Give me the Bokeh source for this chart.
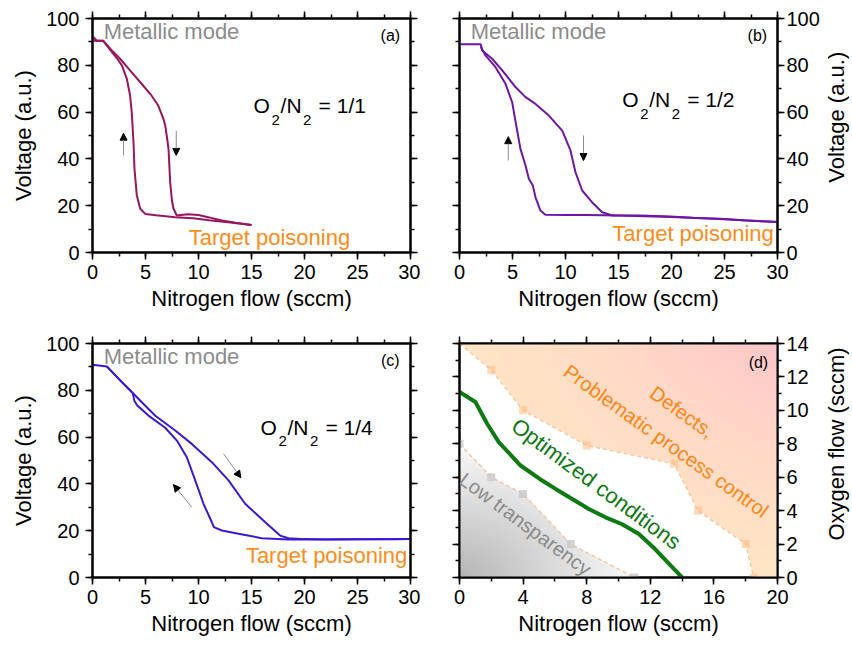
import math
import numpy as np
from bokeh.plotting import figure
from bokeh.layouts import column, row
from bokeh.models import LinearAxis, SingleIntervalTicker, Label, Arrow, NormalHead, Range1d
from bokeh.embed import file_html
from bokeh.resources import INLINE

FONT = "Liberation Sans"

# ---------------- data ----------------
# (a) O2/N2 = 1/1
a_inc_x = [0, 1.0, 1.8, 2.6, 3.6, 4.65, 5.5, 6.2, 6.7, 6.86, 7.0, 7.17, 7.33, 7.5, 7.64, 7.95, 9.0, 10.0, 11.0, 12.2, 13.5, 15.0]
a_inc_y = [90.5, 90.5, 86.5, 82.8, 77.5, 72.0, 67.5, 62.8, 57.0, 54.3, 50.0, 44.4, 30.0, 22.0, 18.8, 15.8, 16.3, 16.0, 15.0, 13.7, 12.7, 11.8]
a_dec_x = [15.0, 13.0, 11.0, 9.5, 7.8, 6.0, 4.97, 4.5, 4.18, 3.96, 3.87, 3.7, 3.55, 3.24, 2.77, 2.3, 1.6, 1.0, 0.4, 0.1, 0]
a_dec_y = [11.8, 12.8, 13.8, 14.6, 15.1, 15.9, 16.5, 18.7, 24.4, 35.8, 47.0, 60.0, 67.0, 74.2, 80.0, 83.0, 87.0, 90.5, 90.5, 92.0, 90.5]

# (b) O2/N2 = 1/2
b_inc_x = [0, 2.0, 2.14, 3.08, 4.03, 5.28, 6.2, 7.17, 8.43, 9.69, 10.47, 10.94, 11.57, 12.5, 13.46, 14.4, 17.0, 19.9, 22.0, 24.6, 27.0, 30.0]
b_inc_y = [89.0, 89.0, 86.3, 82.8, 77.8, 70.7, 66.5, 63.5, 58.5, 52.1, 43.6, 34.3, 26.5, 21.5, 17.2, 15.8, 15.8, 15.4, 14.9, 14.4, 13.7, 13.0]
b_dec_x = [30.0, 25.0, 20.0, 15.0, 12.0, 10.0, 8.1, 7.64, 7.17, 6.92, 6.54, 6.23, 5.75, 5.35, 4.97, 4.34, 3.4, 2.45, 2.0]
b_dec_y = [13.0, 14.2, 15.2, 15.8, 16.0, 16.0, 16.1, 17.9, 23.6, 28.6, 31.5, 37.2, 44.3, 54.3, 64.2, 72.1, 79.2, 84.2, 88.0]

# (c) O2/N2 = 1/4
c_inc_x = [0, 1.35, 2.77, 3.87, 4.65, 5.9, 7.8, 9.37, 11.26, 12.83, 14.4, 16.3, 17.7, 18.5, 20.0, 22.0, 25.0, 28.0, 30.0]
c_inc_y = [90.9, 90.2, 83.5, 78.5, 74.9, 69.2, 62.8, 57.1, 49.3, 41.5, 31.5, 23.6, 17.9, 16.8, 16.4, 16.2, 16.3, 16.3, 16.4]
c_dec_x = [30.0, 25.0, 20.0, 18.5, 15.97, 13.77, 12.2, 11.45, 11.26, 10.47, 9.69, 8.9, 7.96, 6.86, 5.28, 4.2, 3.95, 3.8, 2.77, 1.35]
c_dec_y = [16.4, 16.3, 16.2, 16.2, 16.8, 18.7, 20.1, 21.5, 23.6, 31.5, 41.5, 51.4, 58.5, 64.0, 69.2, 73.6, 75.5, 78.8, 83.5, 90.2]

# (d) process window
d_upper_x = [0, 2, 4, 8, 13.5, 15, 18, 18.5]
d_upper_y = [14, 12.4, 10, 7.9, 6.8, 4, 2, 0]
d_lower_x = [0, 2, 4, 7, 11]
d_lower_y = [8, 6, 5, 2, 0]
d_opt_x = [0, 1.0, 1.74, 2.47, 3.84, 5.2, 6.04, 7.09, 8.13, 9.18, 10.2, 11.28, 12.3, 13.5, 14.0]
d_opt_y = [11.1, 10.5, 9.2, 8.1, 6.7, 5.8, 5.3, 4.7, 4.1, 3.6, 3.2, 2.6, 1.7, 0.5, 0]

ratios = ["1/1", "1/2", "1/4"]
panel_tags = ["(a)", "(b)", "(c)", "(d)"]

COL_A = "#991560"
COL_B = "#6F16A8"
COL_C = "#3D18D4"
COL_D = "#0E7A12"
ORANGE = "#FF8C1A"
GREY = "#8C8C8C"


def style_axis(ax, interval, labels=True, label=None, standoff=5):
    ax.ticker = SingleIntervalTicker(interval=interval, num_minor_ticks=2)
    ax.axis_line_color = "black"
    ax.axis_line_width = 2
    ax.major_tick_line_color = "black"
    ax.major_tick_line_width = 1.5
    ax.minor_tick_line_color = "black"
    ax.minor_tick_line_width = 1.5
    ax.major_tick_in = 0
    ax.major_tick_out = 7
    ax.minor_tick_in = 0
    ax.minor_tick_out = 4
    ax.major_label_text_font = FONT
    if labels:
        ax.major_label_text_color = "black"
        ax.major_label_text_font_size = "20px"
        ax.major_label_standoff = standoff
    else:
        ax.major_label_text_color = None
        ax.major_label_text_font_size = "1px"
        ax.major_label_standoff = 0
    if label:
        ax.axis_label = label
        ax.axis_label_text_font = FONT
        ax.axis_label_text_font_size = "22px"
        ax.axis_label_text_font_style = "normal"
        ax.axis_label_text_color = "black"
    return ax


def add_text(p, x, y, text, size, color, align="left", baseline="middle", angle=0.0, xo=0, yo=0):
    p.add_layout(Label(x=x, y=y, text=text, text_font=FONT, text_font_size=f"{size}px",
                       text_color=color, text_align=align, text_baseline=baseline,
                       angle=angle, angle_units="deg", x_offset=xo, y_offset=yo))


def make_fig(w, h, borders, xr, yr, xint, yint, ylabel, yside):
    l, r, t, b = borders
    p = figure(width=w, height=h, x_range=Range1d(*xr), y_range=Range1d(*yr),
               output_backend="svg", toolbar_location=None,
               x_axis_location=None, y_axis_location=None,
               min_border_left=l, min_border_right=r, min_border_top=t, min_border_bottom=b)
    p.grid.visible = False
    p.outline_line_color = "black"
    p.outline_line_width = 2
    p.background_fill_color = "white"
    p.border_fill_color = "white"
    bx = style_axis(LinearAxis(), xint, True, "Nitrogen flow (sccm)", standoff=5)
    bx.axis_label_standoff = 4
    p.add_layout(bx, "below")
    p.add_layout(style_axis(LinearAxis(), xint, False), "above")
    if yside == "left":
        ya = style_axis(LinearAxis(), yint, True, ylabel, standoff=6)
        ya.axis_label_standoff = 7
        p.add_layout(ya, "left")
        p.add_layout(style_axis(LinearAxis(), yint, False), "right")
    else:
        p.add_layout(style_axis(LinearAxis(), yint, True, None, standoff=2), "right")
        p.add_layout(style_axis(LinearAxis(), yint, False), "left")
    return p


def title_strip(w, h, frame_top, frame_h, text):
    # narrow strip holding a right-hand axis title that reads bottom-to-top
    s = figure(width=w, height=h, x_range=Range1d(0, w), y_range=Range1d(0, h),
               output_backend="svg", toolbar_location=None,
               x_axis_location=None, y_axis_location=None,
               min_border_left=0, min_border_right=0, min_border_top=0, min_border_bottom=0)
    s.grid.visible = False
    s.outline_line_color = None
    s.background_fill_color = "white"
    s.border_fill_color = "white"
    add_text(s, w / 2.0 - 1, h - frame_top - frame_h / 2.0, text, 22, "black",
             align="center", baseline="middle", angle=90)
    return s


def ratio_label(p, x, y, ratio):
    # (text, font px, vertical offset px, horizontal offset px)
    pieces = [("O", 21, 0, 0), ("2", 15, -14, 18), ("/N", 21, 0, 27), ("2", 15, -14, 49.5),
              ("= " + ratio, 21, 0, 65)]
    for s, sz, dy, off in pieces:
        add_text(p, x, y, s, sz, "black", baseline="alphabetic", xo=off, yo=dy)


def arrow(p, xs, ys, xe, ye):
    p.add_layout(Arrow(end=NormalHead(size=7, fill_color="black", line_color="black", line_width=1),
                       x_start=xs, y_start=ys, x_end=xe, y_end=ye,
                       line_color="#8a8a8a", line_width=1))


def voltage_panel(w, h, borders, yside, incx, incy, decx, decy, col, ratio, tag, ratio_pos, tp_pos, tp_align):
    p = make_fig(w, h, borders, (0, 30), (0, 100), 5, 20, "Voltage (a.u.)", yside)
    p.line(incx, incy, line_color=col, line_width=2)
    p.line(decx, decy, line_color=col, line_width=2)
    add_text(p, 1.05, 94.3, "Metallic mode", 22, GREY)
    add_text(p, tp_pos[0], tp_pos[1], "Target poisoning", 22, ORANGE, align=tp_align)
    add_text(p, 28.1, 92.7, tag, 16, "black", align="center")
    ratio_label(p, ratio_pos[0], ratio_pos[1], ratio)
    return p


pa = voltage_panel(420, 320, (92, 10, 18, 68), "left", a_inc_x, a_inc_y, a_dec_x, a_dec_y,
                   COL_A, ratios[0], panel_tags[0], (15.2, 62.8), (9.08, 6.5), "left")
arrow(pa, 2.93, 41.5, 2.93, 51.0)
arrow(pa, 7.9, 52.0, 7.9, 41.5)

pb = voltage_panel(402, 320, (39, 45, 18, 68), "right", b_inc_x, b_inc_y, b_dec_x, b_dec_y,
                   COL_B, ratios[1], panel_tags[1], (15.35, 65.3), (29.65, 8.0), "right")
arrow(pb, 4.6, 39.3, 4.6, 49.5)
arrow(pb, 11.7, 50.0, 11.7, 39.3)
sb = title_strip(30, 320, 18, 234, "Voltage (a.u.)")

pc = voltage_panel(420, 326, (92, 10, 23, 69), "left", c_inc_x, c_inc_y, c_dec_x, c_dec_y,
                   COL_C, ratios[2], panel_tags[2], (15.85, 64.2), (29.7, 9.4), "right")
arrow(pc, 12.36, 52.9, 14.0, 42.6)
arrow(pc, 9.37, 30.0, 7.64, 39.7)

# (d)
pd = make_fig(402, 326, (39, 45, 23, 69), (0, 20), (0, 14), 4, 2, "Oxygen flow (sccm)", "right")
H, W = 468, 636
gx = (np.arange(W) + 0.5) * 20.0 / W
gy = (np.arange(H) + 0.5) * 14.0 / H
GX, GY = np.meshgrid(gx, gy)
ub = np.interp(GX, d_upper_x, d_upper_y)
lb = np.interp(GX, d_lower_x, d_lower_y)
mu = GY > ub
ml = GY < lb
img = np.zeros((H, W, 4), dtype=np.uint8)
t = np.clip((GX / 20.0) * (GY / 14.0), 0, 1) ** 1.3
img[..., 0] = np.where(mu, 255, 0)
img[..., 1] = np.where(mu, (229 - 31 * t).astype(np.uint8), 0)
img[..., 2] = np.where(mu, (197 + 5 * t).astype(np.uint8), 0)
img[..., 3] = np.where(mu, 255, 0)
dd = np.sqrt((GX / 11.0) ** 2 + (GY / 8.0) ** 2)
g = np.clip(182 + 68 * dd, 0, 246).astype(np.uint8)
for k in range(3):
    img[..., k] = np.where(ml, g, img[..., k])
img[..., 3] = np.where(ml, 255, img[..., 3])
pd.image_rgba(image=[img.view(np.uint32).reshape(H, W)], x=0, y=0, dw=20, dh=14)

pd.line(d_upper_x, d_upper_y, line_color="#F8C196", line_width=1.3, line_dash="4 3")
pd.line(d_lower_x, d_lower_y, line_color="#F8C196", line_width=1.3, line_dash="4 3")
pd.scatter(d_upper_x[1:], d_upper_y[1:], marker="square", size=8, fill_color="#FFB980",
           fill_alpha=0.55, line_color=None)
pd.scatter(d_lower_x, d_lower_y, marker="square", size=8, fill_color="#C8C8C8",
           fill_alpha=0.8, line_color=None)
pd.line(d_opt_x, d_opt_y, line_color=COL_D, line_width=4)

add_text(pd, 8.6, 5.6, "Optimized conditions", 22, COL_D, align="center", angle=-36.5)
add_text(pd, 4.15, 3.2, "Low transparency", 20, "#8a8a8a", align="center", angle=-36.5)
add_text(pd, 13.0, 8.16, "Problematic process control", 20, "#FF8614", align="center", angle=-35.7)
add_text(pd, 14.0, 9.9, "Defects,", 20, "#FF8614", align="center", angle=-35.7)
add_text(pd, 18.8, 12.87, panel_tags[3], 16, "black", align="center")
sd = title_strip(30, 326, 23, 234, "Oxygen flow (sccm)")

layout = column(row(pa, pb, sb, spacing=0), row(pc, pd, sd, spacing=0), spacing=0)

open("out.html", "w").write(file_html(layout, INLINE))
